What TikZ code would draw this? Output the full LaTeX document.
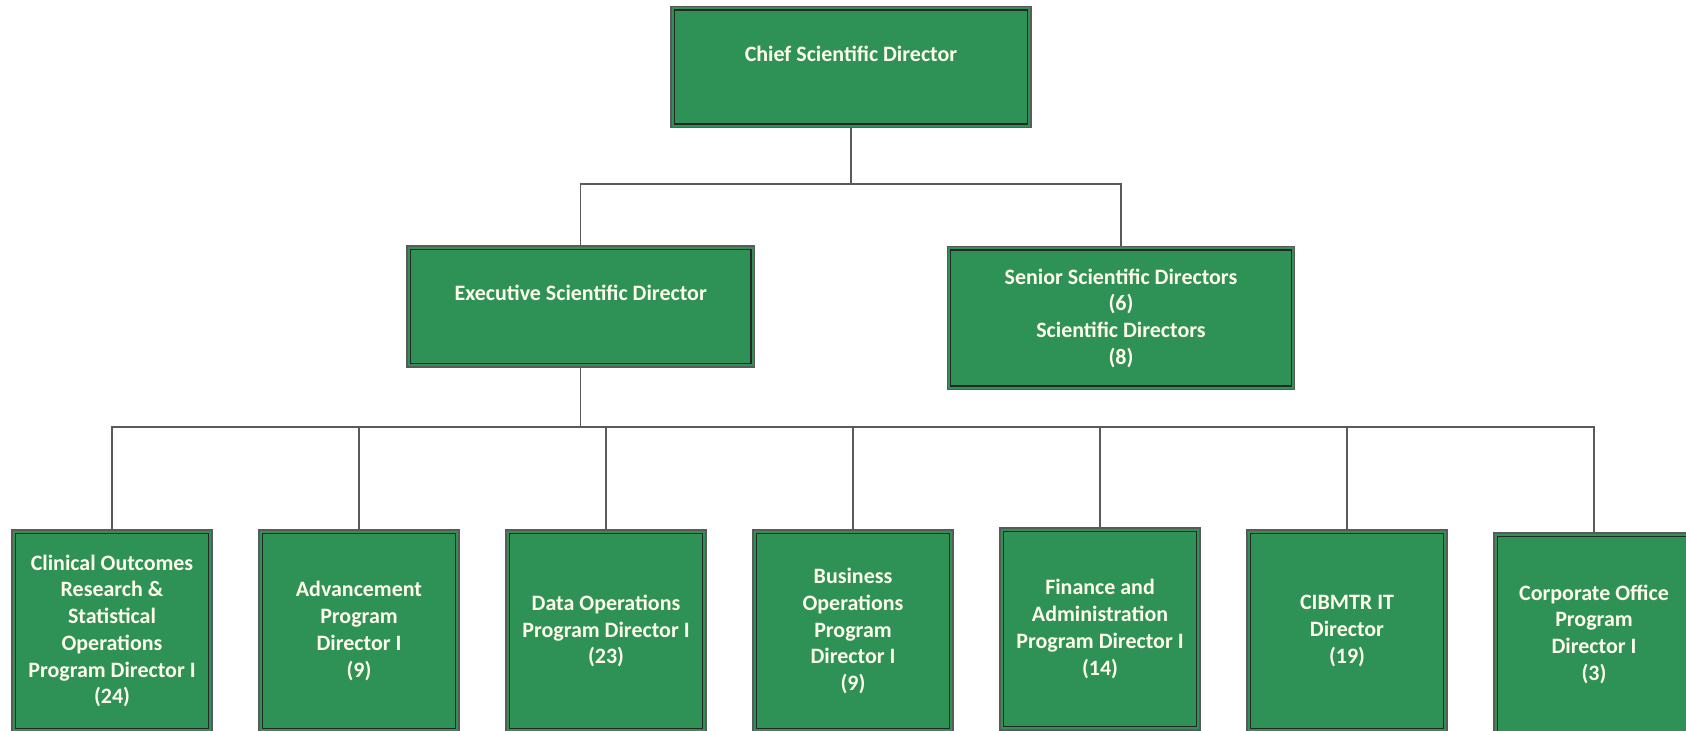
\documentclass[tikz,border=0pt]{standalone}
\usepackage{fontspec}
\setmainfont{Carlito}
\definecolor{boxgreen}{RGB}{46,146,86}
\definecolor{boxtext}{RGB}{255,251,234}
\definecolor{linegray}{RGB}{90,90,90}
\begin{document}
\begin{tikzpicture}[box/.style={shape=rectangle,draw=linegray,line width=0.6pt,fill=boxgreen,text=boxtext,align=center,inner sep=0pt,font=\fontsize{12.5}{15.2}\selectfont\bfseries},boxT/.style={box,minimum width=7.2cm,minimum height=2.42cm},boxM/.style={box,minimum width=6.95cm,minimum height=2.42cm},boxB/.style={box,minimum width=4cm,minimum height=4.04cm},inner/.style={draw=black!85,line width=0.8pt},link/.style={draw=linegray,line width=0.6pt}]
\def\dx{4.94};
\def\xa{2.24};
\def\yb{-12.62};

\useasboundingbox (0,0) rectangle (33.72,-14.6);
\clip (0,0) rectangle (33.72,-14.6);

\node[boxT] (chief) at (17.02,-1.34) {Chief Scientific Director\\ ~};

\node[boxM] (exec) at (11.615,-6.13) {Executive Scientific Director\\ ~};
\node[boxM,minimum height=2.86cm] (senior) at (22.42,-6.36) {Senior Scientific Directors\\(6)\\Scientific Directors\\(8)};

\node[boxB] (cor) at (\xa,\yb) {Clinical Outcomes\\Research \&\\Statistical\\Operations\\Program Director I\\(24)};
\node[boxB] (adv) at (\xa+\dx,\yb) {Advancement\\Program\\Director I\\(9)};
\node[boxB] (dataop) at (\xa+2*\dx,\yb) {Data Operations\\Program Director I\\(23)};
\node[boxB] (busop) at (\xa+3*\dx,\yb) {Business\\Operations\\Program\\Director I\\(9)};
\node[boxB] (fin) at (\xa+4*\dx,\yb+0.04) {Finance and\\Administration\\Program Director I\\(14)};
\node[boxB] (it) at (\xa+5*\dx,\yb) {CIBMTR IT\\Director\\(19)};
\node[boxB] (corp) at (\xa+6*\dx,\yb-0.06) {Corporate Office\\Program\\Director I\\(3)};

% inner line of the double border
\foreach \n in {chief,exec,senior,cor,adv,dataop,busop,fin,it,corp}
  \draw[inner] ([xshift=0.08cm,yshift=-0.08cm]\n.north west) rectangle ([xshift=-0.08cm,yshift=0.08cm]\n.south east);

\coordinate (busA) at (17.02,-3.68);
\draw[link] (chief.south) -- (busA);
\draw[link] (busA) -| (exec.north);
\draw[link] (busA) -| (senior.north);

\coordinate (busB) at (11.615,-8.54);
\draw[link] (exec.south) -- (busB);
\foreach \n in {cor,adv,dataop,busop,fin,it,corp}
  \draw[link] (busB) -| (\n.north);
\end{tikzpicture}
\end{document}
